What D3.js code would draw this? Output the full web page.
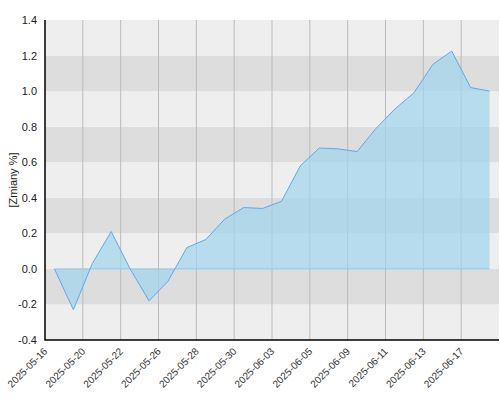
<!DOCTYPE html><html><head><script src="https://cdn.jsdelivr.net/npm/d3@7"></script>
<style>body{margin:0}svg{font-family:"Liberation Sans",Arial,sans-serif}</style></head><body><svg id="c" width="500" height="400"></svg>
<script>
const values=[0,-0.23,0.03,0.21,0.0,-0.18,-0.07,0.12,0.165,0.28,0.345,0.34,0.38,0.58,0.68,0.675,0.66,0.79,0.90,0.99,1.15,1.225,1.02,1.0];
const tickLabels=["2025-05-16","2025-05-20","2025-05-22","2025-05-26","2025-05-28","2025-05-30","2025-06-03","2025-06-05","2025-06-09","2025-06-11","2025-06-13","2025-06-17"];
const yTicks=[-0.4,-0.2,0,0.2,0.4,0.6,0.8,1.0,1.2,1.4];
const svg=d3.select("#c");
const L=45,R=499,T=20,B=340;
const x=d3.scaleLinear().domain([-0.5,values.length-0.5]).range([L,R]);
const y=d3.scaleLinear().domain([-0.4,1.4]).range([B,T]);
for(let i=0;i<yTicks.length-1;i++){
  svg.append("rect").attr("x",L).attr("width",R-L).attr("y",y(yTicks[i+1])).attr("height",y(yTicks[i])-y(yTicks[i+1]))
   .attr("fill",i%2===0?"#eeeeee":"#dddddd");
}
tickLabels.forEach((t,k)=>{
  const xx=x(-0.5+2*k);
  if(k>0) svg.append("line").attr("x1",xx).attr("x2",xx).attr("y1",T).attr("y2",B).attr("stroke","#bbbbbb");
  svg.append("text").attr("transform",`translate(${xx+3},${B+12}) rotate(-45)`).attr("text-anchor","end")
   .attr("font-size",10).attr("fill","#333").text(t);
});
const area=d3.area().x((d,i)=>x(i)).y0(y(0)).y1(d=>y(d));
svg.append("path").datum(values).attr("d",area).attr("fill","#9fd4ee").attr("fill-opacity",0.7);
svg.append("line").attr("x1",x(0)).attr("x2",x(values.length-1)).attr("y1",y(0)).attr("y2",y(0)).attr("stroke","#8cc8e8");
svg.append("path").datum(values).attr("d",d3.line().x((d,i)=>x(i)).y(d=>y(d))).attr("fill","none").attr("stroke","#5aaaee").attr("stroke-width",1);
yTicks.forEach(t=>svg.append("text").attr("x",L-8).attr("y",y(t)+4).attr("text-anchor","end").attr("font-size",11).attr("fill","#222").text(t.toFixed(1)));
svg.append("path").attr("d",`M${L},${T}V${B}H${R}`).attr("fill","none").attr("stroke","#000").attr("stroke-width",1.5);
svg.append("text").attr("transform",`translate(17,${(T+B)/2}) rotate(-90)`).attr("text-anchor","middle").attr("font-size",11).attr("fill","#222").text("[Zmiany %]");
</script></body></html>
